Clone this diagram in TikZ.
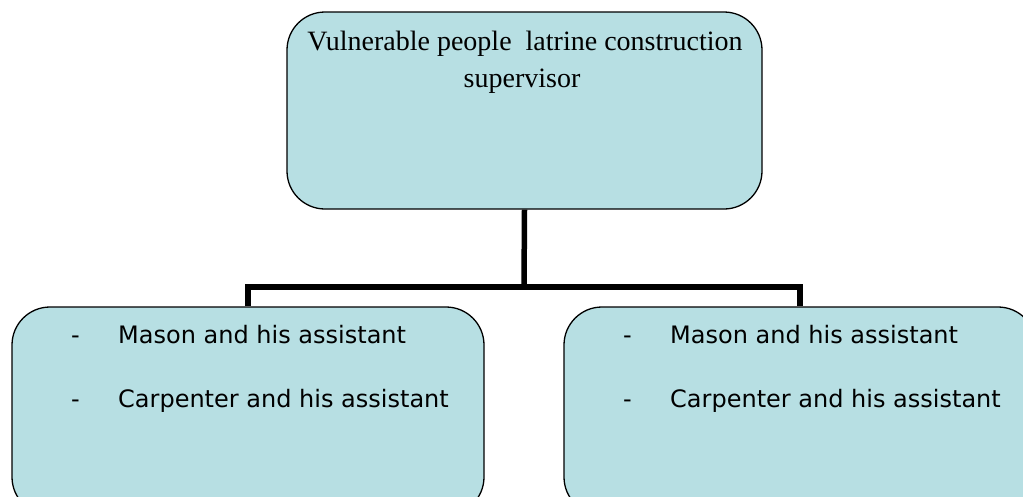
\documentclass[tikz,border=0pt]{standalone}
\usepackage{fontspec}
\setmainfont{Liberation Serif}
\newfontfamily\boxsans{DejaVu Sans}
\definecolor{boxfill}{HTML}{B7DFE3}
\begin{document}
\begin{tikzpicture}[x=1pt,y=-1pt,
  box/.style={draw=black, line width=1.3pt, fill=boxfill, rounded corners=38pt, inner sep=0pt},
  conn/.style={line width=5.5pt, draw=black, line join=miter},
  toptext/.style={font=\fontsize{28}{37}\selectfont, anchor=base, inner sep=0pt},
  subtext/.style={font=\boxsans\fontsize{24}{29}\selectfont, anchor=base west, inner sep=0pt}]
\path[use as bounding box] (0,0) rectangle (1023,496);
\clip (0,0) rectangle (1023,496);
\node[box, minimum width=475pt, minimum height=197pt] (top) at (524.5,110.5) {};
\node[box, minimum width=472pt, minimum height=208pt] (left) at (248,411) {};
\node[box, minimum width=472pt, minimum height=208pt] (right) at (800,411) {};
\coordinate (bar) at (524,287);
\draw[conn] (top.south) -- (bar);
\draw[conn] (left.north) |- (bar) -| (right.north);
\node[toptext] (t1) at (525,50) {Vulnerable people\ \ latrine construction};
\node[toptext] (t2) at (522,87) {supervisor};
\node[subtext] (ld1) at (71,343) {-};
\node[subtext] (lm) at (118,343) {Mason and his assistant};
\node[subtext] (ld2) at (71,407) {-};
\node[subtext] (lc) at (118,407) {Carpenter and his assistant};
\node[subtext] (rd1) at (623,343) {-};
\node[subtext] (rm) at (670,343) {Mason and his assistant};
\node[subtext] (rd2) at (623,407) {-};
\node[subtext] (rc) at (670,407) {Carpenter and his assistant};
\end{tikzpicture}
\end{document}
